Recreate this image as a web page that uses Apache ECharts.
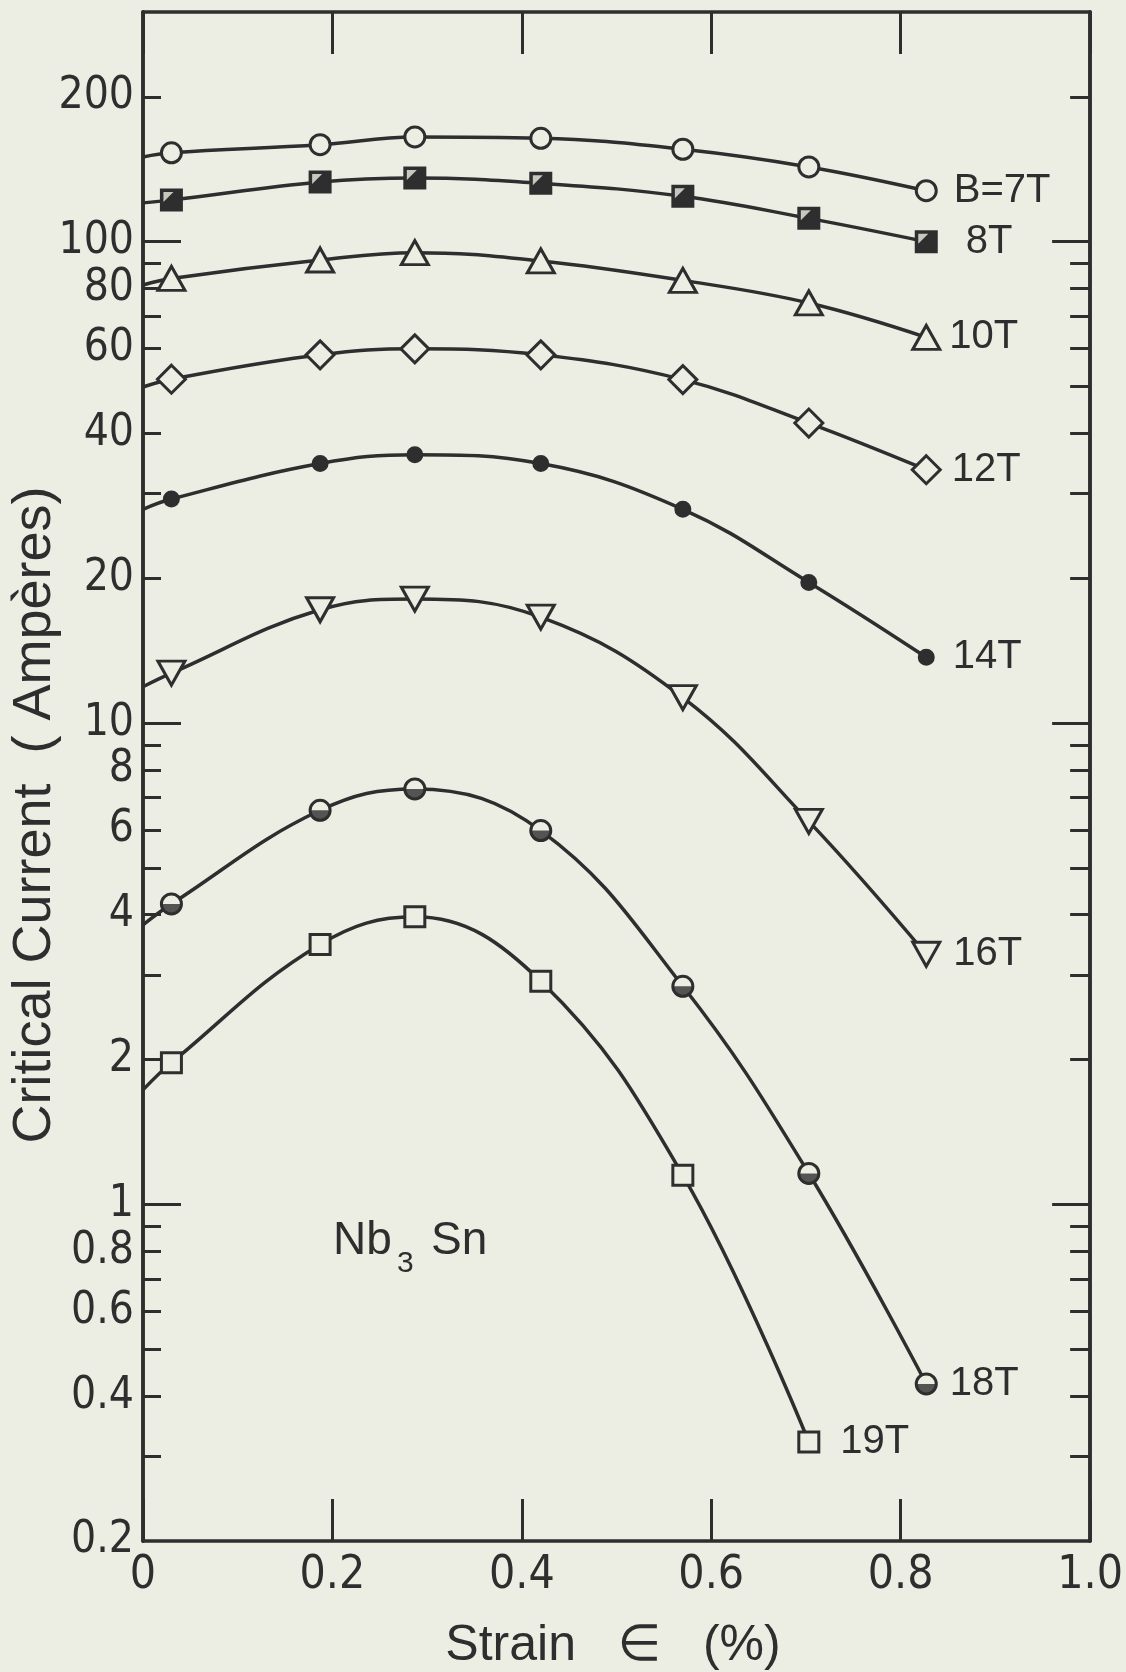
<!DOCTYPE html>
<html>
<head>
<meta charset="utf-8">
<script src="https://cdn.jsdelivr.net/npm/echarts@6/dist/echarts.min.js"></script>
<style>
  html, body { margin: 0; padding: 0; background: #eceee4; }
  #chart { width: 1126px; height: 1672px; }
</style>
</head>
<body>
<div id="chart"></div>
<script>
// strain (%) where the measurements were taken
const strain = [0.03, 0.187, 0.287, 0.42, 0.57, 0.703, 0.827];

// critical current (A), one list per field
const ic7T  = [153, 159, 165, 164, 155.6, 143, 127.6];
const ic8T  = [122, 133, 135.6, 132.2, 124.3, 111.8, 100];
const ic10T = [83.9, 91.6, 94.9, 91.2, 83.1, 74.6, 63.3];
const ic12T = [51.8, 58.2, 59.9, 58.2, 51.7, 42.0, 33.6];
const ic14T = [29.2, 34.6, 36.1, 34.6, 27.8, 19.6, 13.7];
const ic16T = [12.7, 17.2, 18.1, 16.6, 11.3, 6.25, 3.31];
const ic18T = [4.21, 6.59, 7.30, 5.98, 2.84, 1.16, 0.424];
const ic19T = [1.97, 3.47, 3.96, 2.91, 1.15, 0.321];

// where each fitted curve meets the left axis (strain = 0)
const icAtZero = [150, 120.4, 81.3, 49.9, 27.8, 11.9, 3.81, 1.73];

const fieldLabels = ['B=7T', '8T', '10T', '12T', '14T', '16T', '18T', '19T'];

// axis ticks
const xTicks = [0, 0.2, 0.4, 0.6, 0.8, 1.0];
const yLabels = [0.2, 0.4, 0.6, 0.8, 1, 2, 4, 6, 8, 10, 20, 40, 60, 80, 100, 200];
const yTicksLeft = [0.3, 0.4, 0.5, 0.6, 0.7, 0.8, 0.9, 2, 3, 4, 5, 6, 7, 8, 9, 20, 30, 40, 60, 70, 80, 90, 200];
const yTicksRight = [0.3, 0.4, 0.5, 0.6, 0.7, 0.8, 0.9, 2, 3, 4, 5, 6, 7, 8, 9, 20, 30, 40, 50, 60, 70, 80, 90, 200];
const yDecades = [1, 10, 100];

const BG = '#eceee4';
const INK = '#2e2e2e';
const NUM_FONT = "'Liberation Sans Narrow', 'DejaVu Sans Condensed', 'Liberation Sans', sans-serif";
const TXT_FONT = "'Liberation Sans', 'DejaVu Sans', sans-serif";

const allIc = [ic7T, ic8T, ic10T, ic12T, ic14T, ic16T, ic18T, ic19T];

// marker look for each field
const markers = [
  { symbol: 'circle', size: 20, fill: BG, dist: 16 },
  { symbol: 'rect', size: 20, fill: INK, dist: 28 },
  { symbol: 'triangle', size: [27, 24], fill: BG, dist: 8 },
  { symbol: 'diamond', size: [28, 28], fill: BG, dist: 10 },
  { symbol: 'circle', size: 14, fill: INK, dist: 18 },
  { symbol: 'path://M0,0 L10,0 L5,9 Z', size: [27, 24], fill: BG, dist: 12 },
  { symbol: 'circle', size: 20, fill: BG, dist: 12 },
  { symbol: 'rect', size: 20, fill: BG, dist: 20 }
];

function curveData(i) {
  const vals = allIc[i];
  const data = [{ value: [0, icAtZero[i]], symbol: 'none' }];
  vals.forEach(function (v, j) {
    const item = { value: [strain[j], v] };
    if (j === vals.length - 1) {
      item.label = { show: true, formatter: fieldLabels[i] };
    }
    data.push(item);
  });
  return data;
}

const series = [];
allIc.forEach(function (vals, i) {
  const m = markers[i];
  series.push({
    type: 'line',
    name: fieldLabels[i],
    data: curveData(i),
    smooth: 0.4,
    symbol: m.symbol,
    symbolSize: m.size,
    showAllSymbol: true,
    lineStyle: { color: INK, width: 3.5 },
    itemStyle: { color: m.fill, borderColor: INK, borderWidth: 3 },
    label: {
      show: false,
      position: 'right',
      distance: m.dist,
      color: INK,
      fontFamily: TXT_FONT,
      fontSize: 40
    },
    z: 3
  });
});

// white notch inside the 8T squares
series.push({
  type: 'scatter',
  data: strain.map(function (s, j) { return [s, ic8T[j]]; }),
  symbol: 'path://M0,0 L10,0 L0,10 Z',
  symbolSize: 10,
  symbolOffset: [-3, -3],
  itemStyle: { color: BG },
  z: 5
});
// lower half filled on the 18T circles
series.push({
  type: 'scatter',
  data: strain.map(function (s, j) { return [s, ic18T[j]]; }),
  symbol: 'path://M0,0 A10,10 0 0,0 20,0 Z',
  symbolSize: [22, 11],
  symbolOffset: [0, 5.5],
  itemStyle: { color: INK },
  z: 5
});

function yAxisBase(pos, ticks, len, labels) {
  return {
    type: 'log',
    logBase: 10,
    min: 0.2,
    max: 300,
    position: pos,
    axisLine: { show: true, lineStyle: { color: INK, width: 3.5 } },
    axisTick: { show: true, inside: true, length: len, customValues: ticks,
      lineStyle: { color: INK, width: 3 } },
    axisLabel: labels ? {
      show: true, customValues: labels, margin: 9,
      color: INK, fontFamily: NUM_FONT, fontSize: 44,
      formatter: function (v) { return String(+(+v).toPrecision(3)); }
    } : { show: false },
    splitLine: { show: false }
  };
}

function xAxisBase(pos, labels) {
  return {
    type: 'value',
    min: 0,
    max: 1,
    interval: 0.2,
    position: pos,
    axisLine: { show: true, lineStyle: { color: INK, width: 3.5 } },
    axisTick: { show: true, inside: true, length: 42, customValues: xTicks,
      lineStyle: { color: INK, width: 3 } },
    axisLabel: labels ? {
      show: true, customValues: xTicks, margin: 12,
      color: INK, fontFamily: NUM_FONT, fontSize: 46,
      formatter: function (v) { return v === 0 ? '0' : (+v).toFixed(1); }
    } : { show: false },
    splitLine: { show: false }
  };
}

const chart = echarts.init(document.getElementById('chart'));
chart.setOption({
  backgroundColor: BG,
  animation: false,
  grid: { left: 143, right: 21, top: 12, bottom: 131, containLabel: false },
  xAxis: [xAxisBase('bottom', true), xAxisBase('top', false)],
  yAxis: [
    yAxisBase('left', yTicksLeft, 18, yLabels),
    yAxisBase('left', yDecades, 38, null),
    yAxisBase('right', yTicksRight, 20, null),
    yAxisBase('right', yDecades, 38, null)
  ],
  series: series,
  graphic: [
    {
      type: 'text', x: 35, y: 815, rotation: Math.PI / 2,
      style: { text: 'Critical Current  ( Ampères)', fill: INK,
        font: "54px 'Liberation Sans', sans-serif", align: 'center', verticalAlign: 'middle' }
    },
    {
      type: 'text', x: 613, y: 1646,
      style: { text: 'Strain   \u2208   (%)', fill: INK,
        font: "50px 'Liberation Sans', 'DejaVu Sans', sans-serif", align: 'center', verticalAlign: 'middle' }
    },
    {
      type: 'text', x: 333, y: 1241,
      style: { text: 'Nb', fill: INK, font: "46px 'Liberation Sans', sans-serif",
        align: 'left', verticalAlign: 'middle' }
    },
    {
      type: 'text', x: 397, y: 1264,
      style: { text: '3', fill: INK, font: "30px 'Liberation Sans', sans-serif",
        align: 'left', verticalAlign: 'middle' }
    },
    {
      type: 'text', x: 431, y: 1241,
      style: { text: 'Sn', fill: INK, font: "46px 'Liberation Sans', sans-serif",
        align: 'left', verticalAlign: 'middle' }
    }
  ]
});
</script>
</body>
</html>
